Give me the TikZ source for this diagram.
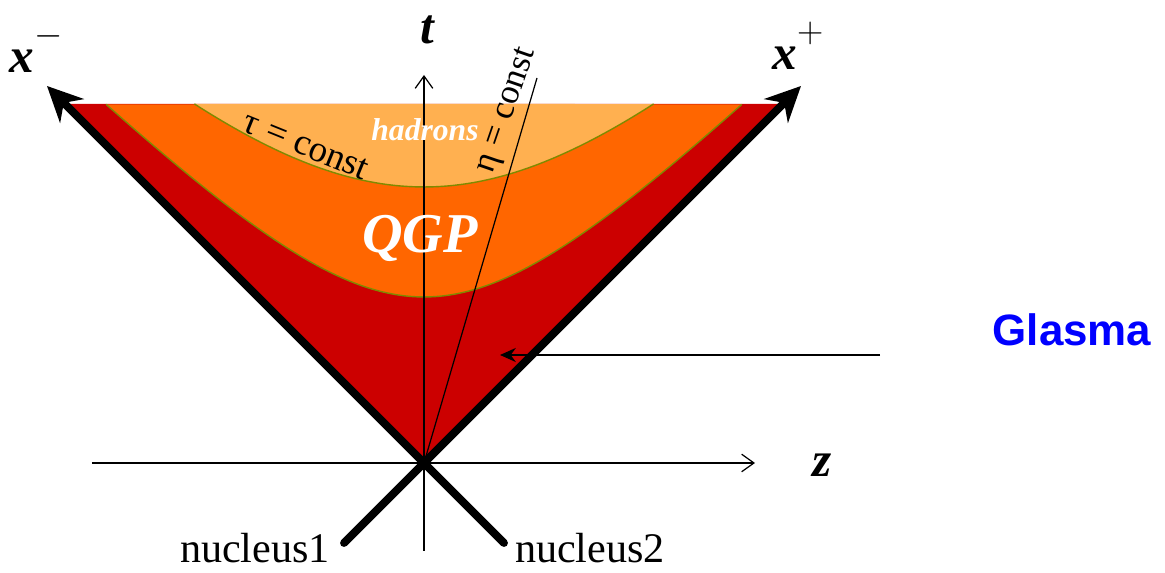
\documentclass[tikz,border=0pt]{standalone}
\usepackage{fontspec}
\setmainfont{Liberation Serif}
\newfontfamily\glasmafont{Liberation Sans}
\usepackage{tikz}
\usetikzlibrary{arrows.meta,calc}
\definecolor{glasmared}{HTML}{CC0000}
\definecolor{qgporange}{HTML}{FF6600}
\definecolor{hadronorange}{HTML}{FFB050}
\definecolor{tauolive}{HTML}{7F8A00}
\definecolor{glasmablue}{HTML}{0000FF}
\tikzset{every node/.append style={font=\rmfamily,inner sep=0pt}}
\newcommand\conelabel[1]{{\bfseries\itshape x}\raisebox{0.55em}{\fontsize{20}{20}\selectfont$#1$}}

\begin{document}
\begin{tikzpicture}[>=Stealth,x=0.02cm,y=0.02cm]
  \useasboundingbox (-424,-110) rectangle (741,463);
  \coordinate (O) at (0,0);
  \coordinate (n1) at (-80,-80);
  \coordinate (n2) at (80,-80);
  \coordinate (xm) at (-377,377);
  \coordinate (xp) at (377,377);
  \coordinate (tbot) at (0,-88);
  \coordinate (ttop) at (0,388);
  \coordinate (zleft) at (-332,0);
  \coordinate (zright) at (331,0);
  \coordinate (etatop) at (113,385);
  \coordinate (gfrom) at (456,108);
  \coordinate (gto) at (76,108);
  % regions between the hyperbolas
  \fill[glasmared] (O)--(-359,359)--(359,359)--cycle;
  \fill[qgporange] plot[domain=-1.405:1.405,samples=60,smooth]
    ({166*sinh(\x)},{166*cosh(\x)}) -- cycle;
  \fill[hadronorange] plot[domain=-0.7576:0.7576,samples=50,smooth]
    ({276*sinh(\x)},{276*cosh(\x)}) -- cycle;
  \foreach \tau/\eta in {166/1.405,276/0.7576}
    \draw[tauolive,line width=0.8pt] plot[domain=-\eta:\eta,samples=60,smooth]
      ({\tau*sinh(\x)},{\tau*cosh(\x)});
  % axes
  \draw[line width=0.7pt,-{Straight Barb[length=7pt,width=10pt]}] (tbot)--(ttop);
  \draw[line width=0.7pt,-{Straight Barb[length=7pt,width=10pt]}] (zleft)--(zright);
  \draw[line width=0.7pt] (O)--(etatop);
  % light cone
  \draw[line width=4.5pt,line cap=round,-{Stealth[length=20pt,width=19pt]}] (n2)--(xm);
  \draw[line width=4.5pt,line cap=round,-{Stealth[length=20pt,width=19pt]}] (n1)--(xp);
  \draw[line width=1.1pt,-{Stealth[length=9pt,width=8pt]}] (gfrom)--(gto);
  % labels
  \node (tlab) at (3,433) {\fontsize{28}{30}\selectfont\bfseries\itshape t};
  \node (zlab) at (398,-2) {\fontsize{28}{30}\selectfont\bfseries\itshape z};
  \node (xmlab) at (-388,415) {\fontsize{28}{30}\selectfont\conelabel{-}};
  \node (xplab) at (374,417) {\fontsize{28}{30}\selectfont\conelabel{+}};
  \node (nuc1) at (-169,-85) {\fontsize{24}{26}\selectfont nucleus1};
  \node (nuc2) at (166,-85) {\fontsize{24}{26}\selectfont nucleus2};
  \node[white] (had) at (1,333) {\fontsize{18}{20}\selectfont\bfseries\itshape hadrons};
  \node[white] (qgp) at (-4,225) {\fontsize{32}{34}\selectfont\bfseries\itshape QGP};
  \node[rotate=-22] (taulab) at (-118,317) {\fontsize{21}{23}\selectfont τ = const};
  \node[rotate=71] (etalab) at (84,352) {\fontsize{20}{22}\selectfont η = const};
  \node[glasmablue] (glasma) at (648,133) {\fontsize{25}{27}\selectfont\glasmafont\bfseries Glasma};
\end{tikzpicture}
\end{document}
